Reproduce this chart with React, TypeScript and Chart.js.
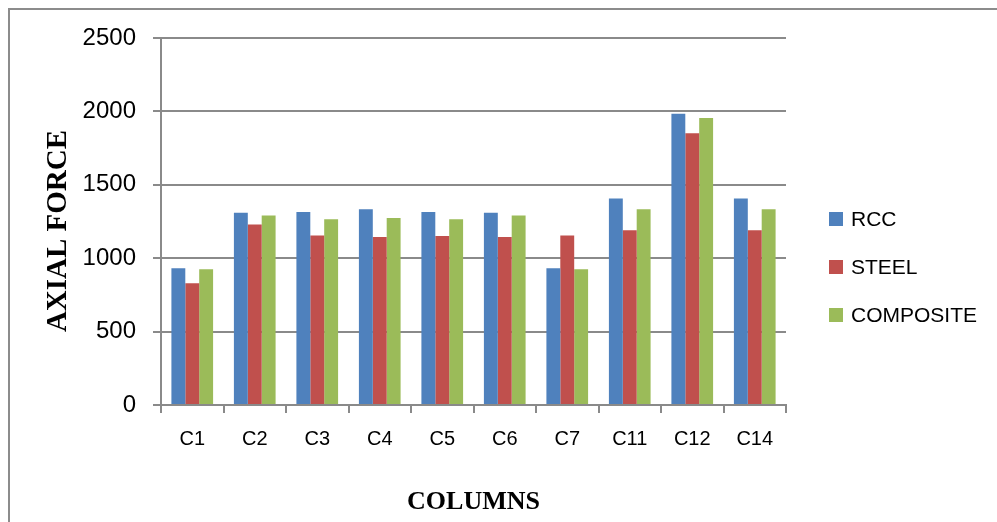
import { useEffect, useRef } from "react";
import { Chart, registerables } from "chart.js";

Chart.register(...registerables);

// Axial force per column for the three framing systems
const categories = ["C1", "C2", "C3", "C4", "C5", "C6", "C7", "C11", "C12", "C14"];
const rccForces = [932, 1309, 1314, 1334, 1314, 1309, 932, 1407, 1984, 1407];
const steelForces = [830, 1230, 1155, 1145, 1152, 1145, 1155, 1191, 1852, 1191];
const compositeForces = [925, 1291, 1266, 1273, 1266, 1291, 925, 1334, 1955, 1334];
const yTicks = [0, 500, 1000, 1500, 2000, 2500];

const seriesLabels = ["RCC", "STEEL", "COMPOSITE"];
const seriesColors = ["#4F81BD", "#C0504D", "#9BBB59"];
const yTitle = "AXIAL FORCE";
const xTitle = "COLUMNS";

const GRID = "#8a8a8a";
const SANS = "'Liberation Sans', Arial, sans-serif";
const SERIF = "'Liberation Serif', 'Times New Roman', serif";

// Legend stacked to the right of the plot, plus the vertical axis title
const sideDecor = {
  id: "sideDecor",
  afterDraw(chart: any) {
    const ctx = chart.ctx;
    ctx.save();
    ctx.font = `21px ${SANS}`;
    ctx.textBaseline = "middle";
    ctx.textAlign = "left";
    chart.data.datasets.forEach((ds: any, i: number) => {
      const y = 219 + i * 48;
      ctx.fillStyle = ds.backgroundColor;
      ctx.fillRect(829, y - 7, 14, 14);
      ctx.fillStyle = "#000";
      ctx.fillText(ds.label, 851, y + 1);
    });
    ctx.translate(59, 231);
    ctx.rotate(-Math.PI / 2);
    ctx.textAlign = "center";
    ctx.font = `bold 29px ${SERIF}`;
    ctx.fillText(yTitle, 0, 0);
    ctx.restore();
  },
};

export default function App() {
  const canvasRef = useRef<HTMLCanvasElement>(null);

  useEffect(() => {
    if (!canvasRef.current) return;
    const seriesData = [rccForces, steelForces, compositeForces];
    const chart = new Chart(canvasRef.current, {
      type: "bar",
      data: {
        labels: categories,
        datasets: seriesData.map((d, i) => ({
          label: seriesLabels[i],
          data: d,
          backgroundColor: seriesColors[i],
          borderWidth: 0,
          categoryPercentage: 0.667,
          barPercentage: 1,
        })),
      },
      options: {
        animation: false,
        responsive: false,
        maintainAspectRatio: false,
        layout: { padding: { top: 38, right: 211, left: 0, bottom: 0 } },
        plugins: {
          legend: { display: false },
          tooltip: { enabled: false },
        },
        scales: {
          x: {
            grid: {
              offset: true,
              drawOnChartArea: false,
              drawTicks: true,
              tickLength: 8,
              color: GRID,
              lineWidth: 2,
            },
            border: { color: GRID, width: 2 },
            ticks: {
              color: "#000",
              font: { family: SANS, size: 20 },
              padding: 14,
              maxRotation: 0,
              autoSkip: false,
            },
            title: {
              display: true,
              text: xTitle,
              color: "#000",
              font: { family: SERIF, size: 26, weight: "bold" },
              padding: { top: 0, bottom: 4 },
            },
            afterFit(scale: any) {
              scale.height = 117;
            },
          },
          y: {
            min: 0,
            max: 2500,
            afterBuildTicks(scale: any) {
              scale.ticks = yTicks.map((v) => ({ value: v }));
            },
            grid: {
              color: GRID,
              lineWidth: 2,
              drawTicks: true,
              tickLength: 8,
            },
            border: { color: GRID, width: 2 },
            ticks: {
              color: "#000",
              font: { family: SANS, size: 24 },
              padding: 17,
              callback: (v: any) => String(v),
            },
            afterFit(scale: any) {
              scale.width = 161;
            },
          },
        },
      },
      plugins: [sideDecor],
    });
    return () => chart.destroy();
  }, []);

  return (
    <div
      style={{
        position: "fixed",
        left: 0,
        top: 0,
        width: 997,
        height: 522,
        background: "#fff",
        overflow: "hidden",
      }}
    >
      <div
        style={{
          position: "absolute",
          left: 8,
          top: 8,
          width: 1000,
          height: 600,
          borderTop: "2px solid #8c8c8c",
          borderLeft: "2px solid #8c8c8c",
        }}
      />
      <canvas
        ref={canvasRef}
        width={997}
        height={522}
        style={{ position: "absolute", left: 0, top: 0, width: 997, height: 522 }}
      />
    </div>
  );
}
